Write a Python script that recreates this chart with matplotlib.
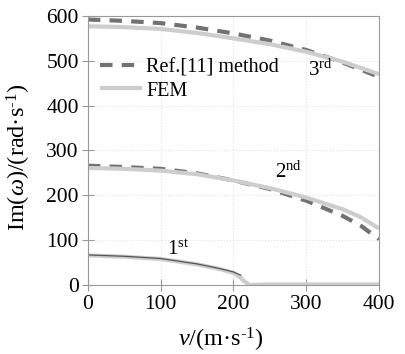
import matplotlib
matplotlib.use("Agg")
import matplotlib.pyplot as plt

plt.rcParams['font.family'] = ['Liberation Serif', 'DejaVu Serif']
plt.rcParams['mathtext.fontset'] = 'custom'
plt.rcParams['mathtext.rm'] = 'Liberation Serif'
plt.rcParams['mathtext.it'] = 'Liberation Serif:italic'

# mode 3
v3 = [0, 50, 100, 150, 200, 250, 300, 350, 400]
ref3 = [592, 589, 584, 574, 561, 545, 524, 496, 464]
fem3 = [577, 575, 571, 562, 550, 537, 520, 498, 470]
# mode 2
v2 = [0, 50, 100, 150, 200, 250, 300, 350, 375, 400]
ref2 = [266, 263, 259, 249, 233, 214, 188, 154, 132, 102]
fem2 = [261, 259, 255, 247, 233, 216, 195, 169, 151, 126]
# mode 1
v1_ref = [0, 50, 100, 150, 180, 200, 210]
ref1 = [67, 64, 59, 47, 37, 29, 22]
v1_fem = [0, 50, 100, 150, 180, 200, 210, 215, 222, 240, 300, 400]
fem1 = [66, 63, 58, 46, 36, 27, 16, 8, 0, 1, 1, 1]

dark = "#727272"
light = "#cdcdcd"

fig, ax = plt.subplots(figsize=(4.05, 3.54), dpi=100)
fig.subplots_adjust(left=0.217, right=0.936, top=0.955, bottom=0.195)

ax.plot(v3, ref3, c=dark, lw=3, ls=(0, (3, 2.2)), label='Ref.[11] method')
ax.plot(v2, ref2, c=dark, lw=3, ls=(0, (3, 2.2)))
ax.plot(v3, fem3, c=light, lw=3, solid_capstyle='butt', label='FEM')
ax.plot(v2, fem2, c=light, lw=3, solid_capstyle='butt')
ax.plot(v1_fem, fem1, c=light, lw=3, solid_capstyle='butt')
ax.plot(v1_ref, ref1, c="#555555", lw=0.9)

ax.text(303, 466, '3$^{\\rm rd}$', fontsize=15)
ax.text(257, 239, '2$^{\\rm nd}$', fontsize=15)
ax.text(108, 67, '1$^{\\rm st}$', fontsize=15)

ax.set_xlim(0, 400)
ax.set_ylim(0, 600)
ax.set_xticks([0, 100, 200, 300, 400])
ax.set_yticks([0, 100, 200, 300, 400, 500, 600])
ax.grid(True, ls=':', c='#e2e2e2', lw=0.8)
for s in ax.spines.values():
    s.set_color('#999999')
ax.tick_params(axis='both', direction='inout', colors='#999999', labelcolor='black',
               labelsize=15.5, length=9)
ax.tick_params(axis='x', pad=3)
ax.tick_params(axis='y', pad=2)

ax.set_xlabel('$\\it{v}$/(m·s$^{\\text{-1}}$)', fontsize=17.5)
ax.set_ylabel('Im($\\it{\\omega}$)/(rad·s$^{\\text{-1}}$)', fontsize=17.5)
ax.xaxis.set_label_coords(0.457, -0.152)
ax.yaxis.set_label_coords(-0.189, 0.476)

ax.legend(loc='center left', bbox_to_anchor=(0.014, 0.764), frameon=False,
          fontsize=14.5, handlelength=2.1, handletextpad=0.2, labelspacing=0.2, borderaxespad=0)

fig.savefig('out.png', dpi=100)
